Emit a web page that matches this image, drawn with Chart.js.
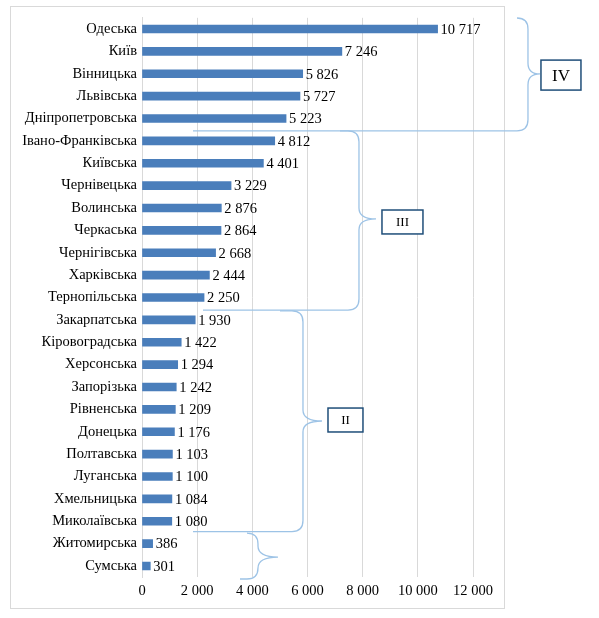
<!DOCTYPE html>
<html><head><meta charset="utf-8">
<script src="https://cdn.jsdelivr.net/npm/chart.js@4"></script>
<style>html,body{margin:0;padding:0;background:#fff}#wrap{width:599px;height:618px;position:relative}</style>
</head><body><div id="wrap"><canvas id="c" width="599" height="618"></canvas></div>
<script>
const categories = ['Одеська','Київ','Вінницька','Львівська','Дніпропетровська','Івано-Франківська','Київська','Чернівецька','Волинська','Черкаська','Чернігівська','Харківська','Тернопільська','Закарпатська','Кіровоградська','Херсонська','Запорізька','Рівненська','Донецька','Полтавська','Луганська','Хмельницька','Миколаївська','Житомирська','Сумська'];
const values = [10717,7246,5826,5727,5223,4812,4401,3229,2876,2864,2668,2444,2250,1930,1422,1294,1242,1209,1176,1103,1100,1084,1080,386,301];
const xTickValues = [0,2000,4000,6000,8000,10000,12000];
const groupLabels = ['IV','III','II',''];

const fmt = n => String(n).replace(/\B(?=(\d{3})+(?!\d))/g, ' ');
const FONT = {family:'"Liberation Serif","Times New Roman",serif', size:14.5};

// brace geometry in data units (x: value, y: category index)
const braces = [
  {xTop:13594, xBot:1849, xv:13993, tip:14428, yTop:-0.49, yMid:2.01, yBot:4.55, box:[14464,15914,1.39,2.73], label:groupLabels[0], fs:17},
  {xTop:7178, xBot:2211, xv:7866, tip:8483, yTop:4.55, yMid:8.49, yBot:12.56, box:[8700,10186,8.09,9.16], label:groupLabels[1], fs:13},
  {xTop:5003, xBot:1849, xv:5836, tip:6525, yTop:12.6, yMid:17.52, yBot:22.46, box:[6743,8011,16.94,18.01], label:groupLabels[2], fs:13},
  {xTop:3843, xBot:3553, xv:4205, tip:4930, yTop:22.53, yMid:23.6, yBot:24.58, box:null, label:groupLabels[3], fs:13}
];

const framePlugin = {
  id:'frame',
  beforeDraw(chart){
    const c = chart.ctx; c.save();
    c.fillStyle='#fff'; c.fillRect(0,0,chart.width,chart.height);
    c.strokeStyle='#d9d9d9'; c.lineWidth=1;
    c.strokeRect(10.5,6.5,494,602);
    c.restore();
  }
};
const labelPlugin = {
  id:'vals',
  afterDatasetsDraw(chart){
    const c = chart.ctx; c.save();
    c.font = FONT.size+'px '+FONT.family; c.fillStyle='#000';
    c.textAlign='left'; c.textBaseline='middle';
    chart.getDatasetMeta(0).data.forEach((el,i)=>{
      c.fillText(fmt(values[i]), el.x+3, el.y+1);
    });
    c.restore();
  }
};
const bracePlugin = {
  id:'braces',
  afterDraw(chart){
    const c = chart.ctx, xs = chart.scales.x, ys = chart.scales.y;
    const X = v => xs.getPixelForValue(v), Y = v => ys.getPixelForValue(v);
    c.save();
    braces.forEach(b=>{
      const xt=X(b.xTop), xb=X(b.xBot), xv=X(b.xv), tp=X(b.tip);
      const yt=Y(b.yTop), ym=Y(b.yMid), yb=Y(b.yBot);
      const r = Math.min(11,(yb-yt)/4);
      c.beginPath();
      c.moveTo(xt,yt);
      c.lineTo(xv-r,yt);
      c.quadraticCurveTo(xv,yt,xv,yt+r);
      c.lineTo(xv,ym-r);
      c.quadraticCurveTo(xv,ym,tp,ym);
      c.moveTo(tp,ym);
      c.quadraticCurveTo(xv,ym,xv,ym+r);
      c.lineTo(xv,yb-r);
      c.quadraticCurveTo(xv,yb,xv-r,yb);
      c.lineTo(xb,yb);
      c.strokeStyle='#9dc3e6'; c.lineWidth=1.3; c.stroke();
      if(b.box){
        const x1=X(b.box[0]), x2=X(b.box[1]), y1=Y(b.box[2]), y2=Y(b.box[3]);
        c.fillStyle='#fff'; c.fillRect(x1,y1,x2-x1,y2-y1);
        c.strokeStyle='#1f4e79'; c.lineWidth=1.5; c.strokeRect(x1,y1,x2-x1,y2-y1);
        c.fillStyle='#000'; c.font=b.fs+'px '+FONT.family;
        c.textAlign='center'; c.textBaseline='middle';
        c.fillText(b.label,(x1+x2)/2,(y1+y2)/2+1);
      }
    });
    c.restore();
  }
};

new Chart(document.getElementById('c'), {
  type:'bar',
  data:{labels:categories, datasets:[{data:values, backgroundColor:'#4a7ebb', borderWidth:0, barThickness:8}]},
  options:{
    indexAxis:'y', responsive:false, animation:false,
    layout:{padding:{left:0,right:126,top:17.8,bottom:10.8}},
    plugins:{legend:{display:false}, tooltip:{enabled:false}},
    scales:{
      x:{min:0,max:12000,
        afterBuildTicks: s => { s.ticks = xTickValues.map(v=>({value:v})); },
        afterFit: s => { s.height = 30; },
        ticks:{font:FONT,color:'#000',padding:5,maxRotation:0,callback:v=>fmt(v)},
        grid:{color:'#d9d9d9',drawTicks:false}, border:{display:false}},
      y:{afterFit: s => { s.width = 142; },
        ticks:{font:FONT,color:'#000',padding:5,autoSkip:false},
        grid:{display:false,drawTicks:false}, border:{color:'#d9d9d9'}}
    }
  },
  plugins:[framePlugin,labelPlugin,bracePlugin]
});
</script></body></html>
